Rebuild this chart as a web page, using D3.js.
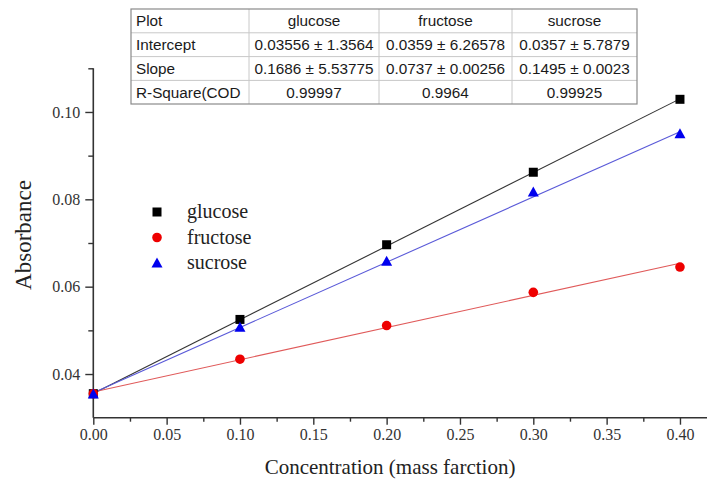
<!DOCTYPE html>
<html>
<head>
<meta charset="utf-8">
<script src="https://cdn.jsdelivr.net/npm/d3@7"></script>
<style>
  html, body { margin: 0; padding: 0; background: #fff; }
  svg { display: block; }
</style>
</head>
<body>
<svg id="chart" width="707" height="479"></svg>
<script>
// ---------- data ----------
const concentrations = [0.0, 0.1, 0.2, 0.3, 0.4];
const seriesNames = ["glucose", "fructose", "sucrose"];
const glucoseValues  = [0.0355, 0.0525, 0.0696, 0.0862, 0.1029];
const fructoseValues = [0.0355, 0.0434, 0.0511, 0.0587, 0.0645];
const sucroseValues  = [0.0354, 0.0507, 0.0658, 0.0817, 0.0950];
const intercepts = [0.03556, 0.0359, 0.0357];
const slopes     = [0.1686, 0.0737, 0.1495];
const xTicks = [0, 0.05, 0.10, 0.15, 0.20, 0.25, 0.30, 0.35, 0.40];
const yTicks = [0.04, 0.06, 0.08, 0.10];
const tableHeader = ["Plot", "glucose", "fructose", "sucrose"];
const tableRowIntercept = ["Intercept", "0.03556 \u00b1 1.3564", "0.0359 \u00b1 6.26578", "0.0357 \u00b1 5.7879"];
const tableRowSlope     = ["Slope", "0.1686 \u00b1 5.53775", "0.0737 \u00b1 0.00256", "0.1495 \u00b1 0.0023"];
const tableRowR2        = ["R-Square(COD", "0.99997", "0.9964", "0.99925"];

// ---------- setup ----------
const svg = d3.select("#chart");
const colors = { glucose: "#000000", fructose: "#ee0000", sucrose: "#0000ee" };
const lineColors = { glucose: "#333333", fructose: "#e05a5a", sucrose: "#5a5ad8" };
const valuesBy = { glucose: glucoseValues, fructose: fructoseValues, sucrose: sucroseValues };

const x = d3.scaleLinear().domain([0, 0.42]).range([93.3, 709.3]);
const y = d3.scaleLinear().domain([0.03, 0.11]).range([417.7, 68.3]);

const serif = "'Liberation Serif', 'Times New Roman', serif";
const sans = "'Liberation Sans', Arial, sans-serif";
const axisColor = "#333";

// ---------- axes ----------
const xAxis = svg.append("g").attr("transform", `translate(0,${y(0.03)})`)
  .call(d3.axisBottom(x).tickValues(xTicks).tickFormat(d3.format(".2f")).tickSize(7).tickPadding(4));
const xMinor = svg.append("g").attr("transform", `translate(0,${y(0.03)})`)
  .call(d3.axisBottom(x).tickValues(d3.range(0.025, 0.4, 0.05)).tickFormat("").tickSize(4));
xMinor.select(".domain").remove();

const yAxis = svg.append("g").attr("transform", `translate(${x(0)},0)`)
  .call(d3.axisLeft(y).tickValues(yTicks).tickFormat(d3.format(".2f")).tickSize(8).tickPadding(5));
const yMinor = svg.append("g").attr("transform", `translate(${x(0)},0)`)
  .call(d3.axisLeft(y).tickValues([0.05, 0.07, 0.09, 0.11]).tickFormat("").tickSize(5));
yMinor.select(".domain").remove();

svg.selectAll(".domain").attr("stroke", axisColor).attr("stroke-width", 1.6)
  .attr("d", function () { return d3.select(this).attr("d").replace(/V6|V-6|H-6|H6/g, m => m); });
// flatten axis domain ends (no outer ticks)
xAxis.select(".domain").attr("d", `M${x(0)},0H${x(0.42)}`);
yAxis.select(".domain").attr("d", `M0,${y(0.03)}V${y(0.11)}`);
svg.selectAll(".tick line").attr("stroke", axisColor).attr("stroke-width", 1.4);
svg.selectAll(".tick text").attr("fill", "#333").style("font-family", serif).style("font-size", "16px");

// axis titles
svg.append("text")
  .attr("x", 390).attr("y", 474)
  .attr("text-anchor", "middle")
  .style("font-family", serif).style("font-size", "21px").attr("fill", "#222")
  .text("Concentration (mass farction)");
svg.append("text")
  .attr("transform", "translate(31,235) rotate(-90)")
  .attr("text-anchor", "middle")
  .style("font-family", serif).style("font-size", "23px").attr("fill", "#222")
  .text("Absorbance");

// ---------- fit lines ----------
seriesNames.forEach((name, i) => {
  const xs = [concentrations[0], concentrations[concentrations.length - 1]];
  svg.append("path")
    .datum(xs)
    .attr("fill", "none")
    .attr("stroke", lineColors[name])
    .attr("stroke-width", 1.1)
    .attr("d", d3.line().x(d => x(d)).y(d => y(intercepts[i] + slopes[i] * d)));
});

// ---------- markers ----------
function drawMarker(g, name, cx, cy) {
  if (name === "glucose") {
    g.append("rect").attr("x", cx - 4.5).attr("y", cy - 4.5).attr("width", 9).attr("height", 9).attr("fill", colors[name]);
  } else if (name === "fructose") {
    g.append("circle").attr("cx", cx).attr("cy", cy).attr("r", 4.8).attr("fill", colors[name]);
  } else {
    g.append("path").attr("transform", `translate(${cx},${cy})`)
      .attr("d", "M0,-5.5L5.5,4.5L-5.5,4.5Z").attr("fill", colors[name]);
  }
}
const markers = svg.append("g");
seriesNames.forEach(name => {
  valuesBy[name].forEach((v, j) => drawMarker(markers, name, x(concentrations[j]), y(v)));
});

// ---------- legend ----------
const legend = svg.append("g");
seriesNames.forEach((name, i) => {
  const ly = 212 + i * 25.5;
  drawMarker(legend, name, 157, ly);
  legend.append("text").attr("x", 187).attr("y", ly + 6)
    .style("font-family", serif).style("font-size", "20px").attr("fill", "#222")
    .text(name);
});

// ---------- table ----------
const tableRows = [tableHeader, tableRowIntercept, tableRowSlope, tableRowR2];
const colEdges = [131, 249, 379, 512, 637];
const rowEdges = [9, 32.8, 56.6, 80.4, 104];
const tbl = svg.append("g");
tbl.append("rect").attr("x", colEdges[0]).attr("y", rowEdges[0])
  .attr("width", colEdges[4] - colEdges[0]).attr("height", rowEdges[4] - rowEdges[0])
  .attr("fill", "#fff");
rowEdges.slice(1, -1).forEach(ry => {
  tbl.append("line").attr("x1", colEdges[0]).attr("x2", colEdges[4]).attr("y1", ry).attr("y2", ry)
    .attr("stroke", "#c8c8c8").attr("stroke-width", 1);
});
colEdges.slice(1, -1).forEach(cx => {
  tbl.append("line").attr("x1", cx).attr("x2", cx).attr("y1", rowEdges[0]).attr("y2", rowEdges[4])
    .attr("stroke", "#c8c8c8").attr("stroke-width", 1);
});
tbl.append("rect").attr("x", colEdges[0]).attr("y", rowEdges[0])
  .attr("width", colEdges[4] - colEdges[0]).attr("height", rowEdges[4] - rowEdges[0])
  .attr("fill", "none").attr("stroke", "#8a8a8a").attr("stroke-width", 1.2);
tableRows.forEach((row, r) => {
  const cy = (rowEdges[r] + rowEdges[r + 1]) / 2;
  row.forEach((cell, c) => {
    const first = c === 0;
    tbl.append("text")
      .attr("x", first ? colEdges[0] + 5 : (colEdges[c] + colEdges[c + 1]) / 2)
      .attr("y", cy + 5.5)
      .attr("text-anchor", first ? "start" : "middle")
      .style("font-family", sans).style("font-size", "15.3px").attr("fill", "#1a1a1a")
      .text(cell);
  });
});
</script>
</body>
</html>
